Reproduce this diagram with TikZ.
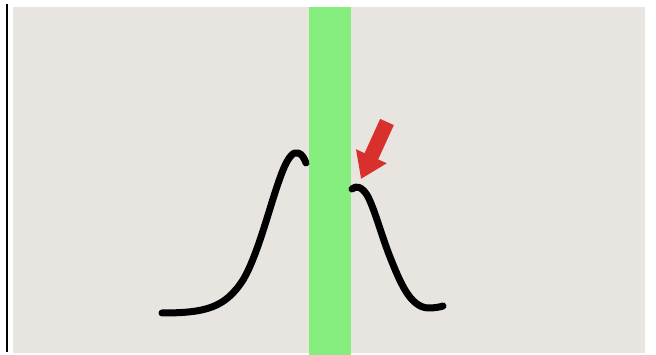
\documentclass[tikz,border=0pt]{standalone}
\usepackage{tikz}
\usetikzlibrary{arrows.meta, calc}
\definecolor{paper}{RGB}{232,229,225}
\definecolor{band}{RGB}{134,238,126}
\definecolor{pointer}{RGB}{216,48,44}
\tikzset{
  curve/.style={line width=7pt, line cap=round, line join=round, black},
  edge line/.style={line width=2pt, black},
  hint/.style={line width=15pt, pointer, -{Triangle[length=25pt, width=32pt]}},
}
\begin{document}
\begin{tikzpicture}[x=1pt, y=-1pt]
  \useasboundingbox (0,0) rectangle (656,355);
  \fill[paper] (13,7) rectangle (645,353);
  \fill[band] (309,7) rectangle (351,355);
  \coordinate (top) at (6.5,4);
  \coordinate (bottom) at (6.5,352);
  \draw[edge line] (top) -- (bottom);

  % left half of the bump
  \draw[curve] (162,313) .. controls (205,313) and (225,308) .. (243,280)
    .. controls (258,255) and (270,205) .. (280,178)
    .. controls (287,158) and (293,151) .. (298,153)
    .. controls (302,154) and (304,158) .. (306,163);
  % right half of the bump
  \draw[curve] (352,189) .. controls (356,185) and (362,187) .. (367,195)
    .. controls (374,207) and (382,237) .. (390,257)
    .. controls (400,282) and (410,307) .. (428,308)
    .. controls (435,308) and (440,307) .. (443,306);

  \coordinate (tail) at (387,122);
  \coordinate (tip) at (361,179);
  \draw[hint] (tail) -- (tip);
\end{tikzpicture}
\end{document}
